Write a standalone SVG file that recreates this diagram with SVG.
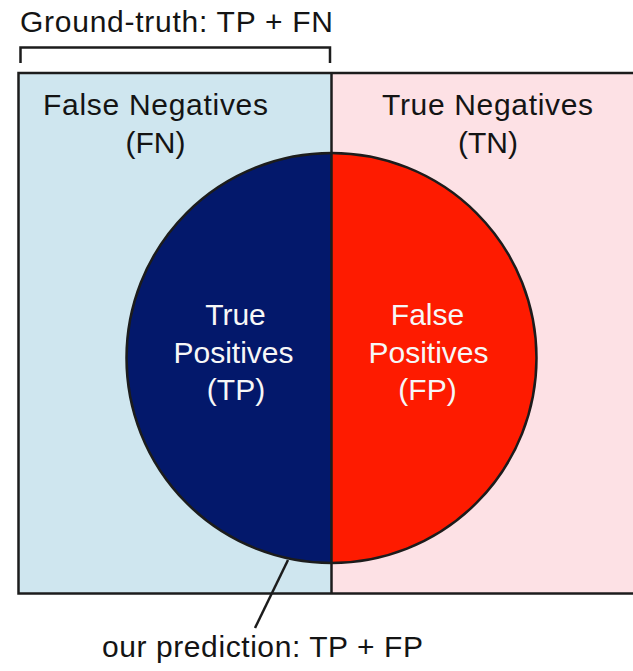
<svg xmlns="http://www.w3.org/2000/svg" width="633" height="671" viewBox="0 0 633 671">
<style>
  .t{font-family:"Liberation Sans",Arial,Helvetica,sans-serif;font-size:30px;fill:#141414}
  .w{font-family:"Liberation Sans",Arial,Helvetica,sans-serif;font-size:30px;fill:#f7f7f7}
  .ln{stroke:#1c1c1c;stroke-width:2.5;fill:none}
</style>
<rect x="0" y="0" width="633" height="671" fill="#ffffff"/>
<g id="ground-truth-label">
  <text class="t" x="20" y="32" textLength="313" lengthAdjust="spacing">Ground-truth: TP + FN</text>
  <path class="ln" d="M20.5,63 V47.5 H330 V63" stroke-width="2"/>
</g>
<g id="fn-region">
  <rect x="18.5" y="73" width="313" height="520.5" fill="#cfe6ef"/>
  <text class="t" x="155.5" y="115" text-anchor="middle" textLength="225" lengthAdjust="spacing">False Negatives</text>
  <text class="t" x="155.5" y="153" text-anchor="middle">(FN)</text>
</g>
<g id="tn-region">
  <rect x="331.5" y="73" width="310" height="520.5" fill="#fde1e5"/>
  <text class="t" x="487.5" y="115" text-anchor="middle" textLength="211" lengthAdjust="spacing">True Negatives</text>
  <text class="t" x="488" y="153" text-anchor="middle">(TN)</text>
</g>
<g id="frame">
  <rect class="ln" x="18.5" y="73" width="630" height="520.5"/>
</g>
<g id="tp-region">
  <path d="M331.5,153 A205,205 0 0 0 331.5,563 Z" fill="#03186b"/>
  <text class="w" x="235.5" y="325" text-anchor="middle">True</text>
  <text class="w" x="233.5" y="362.5" text-anchor="middle">Positives</text>
  <text class="w" x="236" y="400" text-anchor="middle">(TP)</text>
</g>
<g id="fp-region">
  <path d="M331.5,153 A205,205 0 0 1 331.5,563 Z" fill="#fe1b00"/>
  <text class="w" x="427.5" y="325" text-anchor="middle">False</text>
  <text class="w" x="428.5" y="362.5" text-anchor="middle">Positives</text>
  <text class="w" x="427.5" y="400" text-anchor="middle">(FP)</text>
</g>
<g id="connectors">
  <circle class="ln" cx="331.5" cy="358" r="205" stroke-width="2"/>
  <line class="ln" x1="331.5" y1="73" x2="331.5" y2="593.5" stroke-width="2"/>
  <line class="ln" x1="288" y1="560" x2="255" y2="628" stroke-width="2"/>
</g>
<g id="prediction-label">
  <text class="t" x="102" y="657" textLength="321" lengthAdjust="spacing">our prediction: TP + FP</text>
</g>
</svg>
